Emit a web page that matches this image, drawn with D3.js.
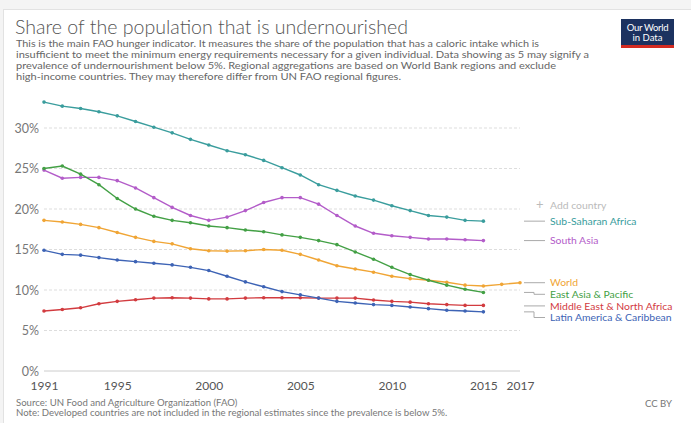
<!DOCTYPE html>
<html>
<head>
<meta charset="utf-8">
<script src="https://cdn.jsdelivr.net/npm/d3@7"></script>
<style>
  html, body { margin: 0; padding: 0; background: #f4f4f4; }
  svg { display: block; font-family: Lato, "Open Sans", sans-serif; }
</style>
</head>
<body>
<svg id="chart" width="691" height="423"></svg>
<script>
// ---------- DATA ----------
const years = d3.range(1991, 2016); // 1991..2015
const worldYears = d3.range(1991, 2018); // 1991..2017

const subSaharanAfrica = [33.2, 32.7, 32.4, 32.0, 31.5, 30.8, 30.1, 29.4, 28.6, 27.9, 27.2, 26.7, 26.0, 25.1, 24.2, 23.0, 22.3, 21.6, 21.1, 20.4, 19.8, 19.2, 19.0, 18.6, 18.5];
const southAsia = [24.8, 23.8, 23.9, 23.9, 23.5, 22.6, 21.4, 20.2, 19.2, 18.6, 19.0, 19.8, 20.8, 21.4, 21.4, 20.6, 19.2, 17.9, 17.0, 16.7, 16.5, 16.3, 16.3, 16.2, 16.1];
const world = [18.6, 18.4, 18.1, 17.7, 17.1, 16.5, 16.0, 15.7, 15.1, 14.85, 14.8, 14.85, 15.0, 14.9, 14.4, 13.7, 13.0, 12.6, 12.2, 11.7, 11.4, 11.2, 10.95, 10.6, 10.5, 10.7, 10.9];
const eastAsiaPacific = [25.0, 25.3, 24.3, 23.0, 21.3, 20.0, 19.1, 18.6, 18.3, 17.9, 17.7, 17.4, 17.2, 16.8, 16.5, 16.1, 15.6, 14.7, 13.8, 12.8, 11.9, 11.2, 10.6, 10.1, 9.7];
const middleEastNorthAfrica = [7.4, 7.6, 7.8, 8.3, 8.6, 8.8, 9.0, 9.05, 9.0, 8.9, 8.9, 9.0, 9.05, 9.05, 9.05, 9.0, 9.0, 9.0, 8.77, 8.6, 8.5, 8.3, 8.2, 8.1, 8.1];
const latinAmericaCaribbean = [14.9, 14.4, 14.3, 14.0, 13.7, 13.5, 13.3, 13.1, 12.8, 12.4, 11.7, 11.0, 10.4, 9.8, 9.4, 9.0, 8.6, 8.4, 8.2, 8.1, 7.9, 7.7, 7.5, 7.4, 7.3];

const seriesNames = ["Sub-Saharan Africa", "South Asia", "World", "East Asia & Pacific", "Middle East & North Africa", "Latin America & Caribbean"];
const seriesColors = ["#3a9d9d", "#b35cc9", "#f0a535", "#43a045", "#d23b3f", "#3d63b5"];
const seriesValues = [subSaharanAfrica, southAsia, world, eastAsiaPacific, middleEastNorthAfrica, latinAmericaCaribbean];
const seriesYears = [years, years, worldYears, years, years, years];

const yTicks = [0, 5, 10, 15, 20, 25, 30];
const xTicks = [1991, 1995, 2000, 2005, 2010, 2015, 2017];

const titleText = "Share of the population that is undernourished";
const subtitleLines = [
  "This is the main FAO hunger indicator. It measures the share of the population that has a caloric intake which is",
  "insufficient to meet the minimum energy requirements necessary for a given individual. Data showing as 5 may signify a",
  "prevalence of undernourishment below 5%. Regional aggregations are based on World Bank regions and exclude",
  "high-income countries. They may therefore differ from UN FAO regional figures."
];
const sourceText = "Source: UN Food and Agriculture Organization (FAO)";
const noteText = "Note: Developed countries are not included in the regional estimates since the prevalence is below 5%.";

// ---------- LAYOUT ----------
const svg = d3.select("#chart");
const W = 691, H = 423;

svg.append("rect").attr("x", 0).attr("y", 0).attr("width", W).attr("height", H).attr("fill", "#f4f4f4");
svg.append("rect").attr("x", 3.5).attr("y", 9.5).attr("width", W + 10).attr("height", H + 10)
  .attr("fill", "#ffffff").attr("stroke", "#e2e2e2");

// Title & subtitle
svg.append("text").attr("x", 15).attr("y", 34)
  .attr("font-size", 20).attr("fill", "#555").attr("font-weight", 300)
  .attr("textLength", 393).attr("lengthAdjust", "spacingAndGlyphs")
  .text(titleText);

const subEnds = [539, 589, 556, 401];
subtitleLines.forEach((t, i) => {
  svg.append("text").attr("x", 16).attr("y", 47 + i * 11)
    .attr("font-size", 10.3).attr("fill", "#666")
    .attr("textLength", subEnds[i] - 16).attr("lengthAdjust", "spacingAndGlyphs")
    .text(t);
});

// Logo
const logo = svg.append("g");
logo.append("rect").attr("x", 621).attr("y", 19).attr("width", 53).attr("height", 29).attr("fill", "#1c3260");
logo.append("rect").attr("x", 621).attr("y", 45).attr("width", 53).attr("height", 3).attr("fill", "#d42b21");
logo.append("text").attr("x", 647.5).attr("y", 30.5).attr("text-anchor", "middle")
  .attr("font-size", 9.5).attr("fill", "#fff").attr("letter-spacing", -0.3).text("Our World");
logo.append("text").attr("x", 647.5).attr("y", 41).attr("text-anchor", "middle")
  .attr("font-size", 9.5).attr("fill", "#fff").text("in Data");

// Scales
const x = d3.scaleLinear().domain([1991, 2017]).range([44, 520]);
const y = d3.scaleLinear().domain([0, 30]).range([371, 128]);

// Grid lines
const grid = svg.append("g");
grid.selectAll("line.grid").data(yTicks.filter(d => d > 0)).join("line")
  .attr("x1", x(1991)).attr("x2", x(2017))
  .attr("y1", d => y(d)).attr("y2", d => y(d))
  .attr("stroke", "#dddddd").attr("stroke-dasharray", "3,2");
// zero baseline
svg.append("line").attr("x1", x(1991)).attr("x2", x(2017))
  .attr("y1", y(0)).attr("y2", y(0)).attr("stroke", "#cccccc");

// Y axis
const yAxis = d3.axisLeft(y).tickValues(yTicks).tickFormat(d => d + "%").tickSize(0).tickPadding(5);
const yg = svg.append("g").attr("transform", `translate(${x(1991)},0)`).call(yAxis);
yg.select(".domain").remove();
yg.selectAll("text").attr("font-size", 12.5).attr("fill", "#777").attr("font-family", "Lato, sans-serif");

// X axis
const xAxis = d3.axisBottom(x).tickValues(xTicks).tickFormat(d3.format("d")).tickSize(0).tickPadding(10);
const xg = svg.append("g").attr("transform", `translate(0,${y(0)})`).call(xAxis);
xg.select(".domain").remove();
xg.selectAll("text").attr("font-size", 12).attr("fill", "#555").attr("font-family", "Lato, sans-serif");

// Lines
const line = d3.line().x(d => x(d[0])).y(d => y(d[1]));
seriesValues.forEach((vals, i) => {
  const pts = vals.map((v, j) => [seriesYears[i][j], v]);
  const g = svg.append("g");
  g.append("path").datum(pts).attr("d", line)
    .attr("fill", "none").attr("stroke", seriesColors[i]).attr("stroke-width", 1.4);
  g.selectAll("circle").data(pts).join("circle")
    .attr("cx", d => x(d[0])).attr("cy", d => y(d[1])).attr("r", 1.8)
    .attr("fill", seriesColors[i]);
});

// Legend with collision avoidance
const ends = seriesValues.map((vals, i) => ({ i, yEnd: y(vals[vals.length - 1]) }));
const sorted = ends.slice().sort((a, b) => a.yEnd - b.yEnd);
let prev = -Infinity;
sorted.forEach(e => { e.yLab = Math.max(e.yEnd, prev + 11.6); prev = e.yLab; });

const lg = svg.append("g");
sorted.forEach(e => {
  const y0 = e.yEnd, y1 = e.yLab;
  let d;
  if (Math.abs(y1 - y0) < 1) d = `M524,${y1}H545`;
  else d = `M524,${y0}H534V${y1}H545`;
  lg.append("path").attr("d", d).attr("fill", "none").attr("stroke", "#aaaaaa").attr("stroke-width", 1);
  lg.append("text").attr("x", 550).attr("y", y1 + 3.6)
    .attr("font-size", 10.4).attr("fill", seriesColors[e.i]).text(seriesNames[e.i]);
});

// Add country
lg.append("text").attr("x", 536).attr("y", 209).attr("font-size", 13).attr("fill", "#bbb").text("+");
lg.append("text").attr("x", 550).attr("y", 208.5).attr("font-size", 10.4).attr("fill", "#bbb").text("Add country");

// Footer
svg.append("text").attr("x", 16).attr("y", 406).attr("font-size", 9.6).attr("fill", "#777").text(sourceText);
svg.append("text").attr("x", 16).attr("y", 416).attr("font-size", 9.6).attr("fill", "#777").text(noteText);
svg.append("text").attr("x", 672).attr("y", 407).attr("text-anchor", "end").attr("font-size", 9.6).attr("fill", "#777").text("CC BY");
</script>
</body>
</html>
